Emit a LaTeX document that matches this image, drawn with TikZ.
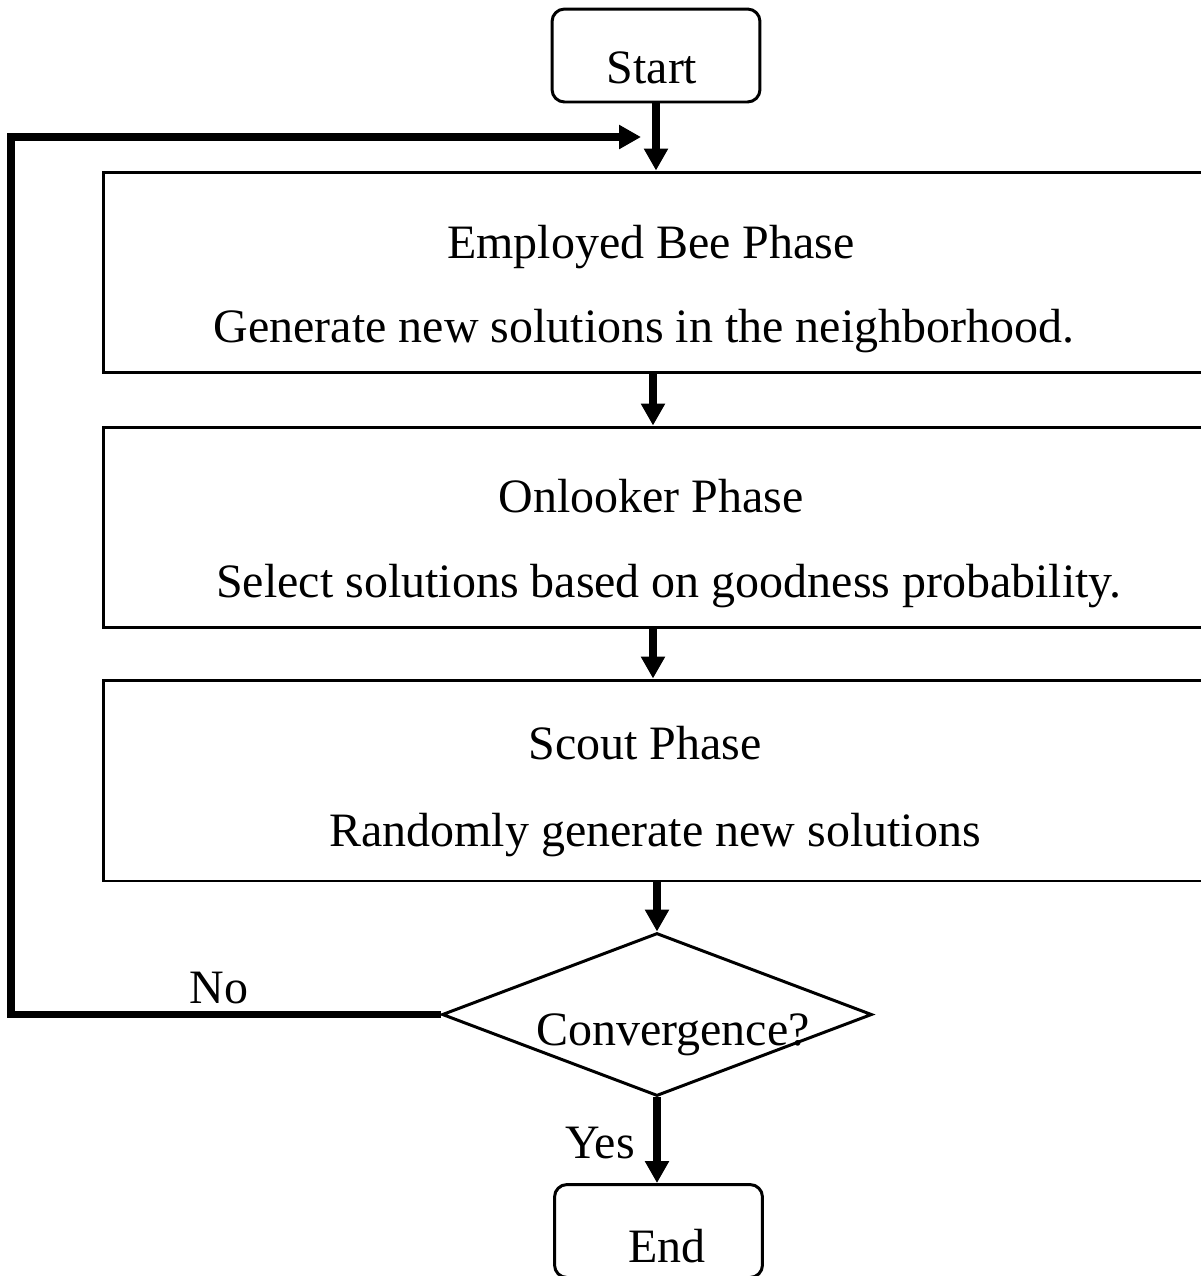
\documentclass[tikz,border=0pt]{standalone}
\usepackage{fontspec}
\setmainfont{Liberation Serif}
\usetikzlibrary{shapes.geometric,arrows.meta}

\begin{document}
\begin{tikzpicture}[x=0.02cm, y=-0.02cm,
    every node/.style={font=\fontsize{27.3}{32}\selectfont},
    term/.style={draw, line width=1.7pt, rounded corners=0.25cm, minimum width=4.16cm, minimum height=1.86cm, inner sep=0pt},
    phase/.style={draw, line width=1.7pt, minimum width=22cm, minimum height=4.02cm, inner sep=0pt},
    txt/.style={anchor=base, inner sep=0pt},
    flow/.style={line width=4pt, -{Triangle[length=0.44cm, width=0.46cm]}}]

    % Frame
    \useasboundingbox (0,0) rectangle (1201,1276);
    \clip (0,0) rectangle (1201,1276);

    % Start
    \node[term] (start) at (656,55.5) {};
    \node[txt] (starttxt) at (652,83) {Start};

    % Phases
    \node[phase] (emp) at (653,272.5) {};
    \node[txt] (emptitle) at (651,258) {Employed Bee Phase};
    \node[txt] (empsub) at (644,342) {Generate new solutions in the neighborhood.};

    \node[phase] (onl) at (653,527.5) {};
    \node[txt] (onltitle) at (651,512) {Onlooker Phase};
    \node[txt] (onlsub) at (669,597) {Select solutions based on goodness probability.};

    \node[phase] (sct) at (653,780.5) {};
    \node[txt] (scttitle) at (645,759) {Scout Phase};
    \node[txt] (sctsub) at (655,846) {Randomly generate new solutions};

    % Decision
    \node[draw, diamond, line width=1.7pt, minimum width=8.6cm, minimum height=3.26cm, inner sep=0pt] (dec) at (657,1014.5) {};
    \node[txt] (dectxt) at (673,1045) {Convergence?};

    % End
    \node[term] (stop) at (658.5,1231) {};
    \node[txt] (stoptxt) at (667,1262) {End};

    % Labels
    \node[txt] (no) at (219,1003) {No};
    \node[txt] (yes) at (600,1158) {Yes};

    % Arrows
    \draw[flow] (start.south) -- (start.south |- emp.north);
    \draw[flow] (emp.south) -- (onl.north);
    \draw[flow] (onl.south) -- (onl.north |- sct.north);
    \draw[flow] (dec.north |- sct.south) -- (dec.north);
    \draw[flow] (dec.south) -- (dec.south |- stop.north);

    % Loop back
    \coordinate (fbleft) at (11,137);
    \coordinate (fbend) at (641,137);
    \draw[flow] (dec.west) -- (dec.west -| fbleft) -- (fbleft) -- (fbend);
\end{tikzpicture}
\end{document}
